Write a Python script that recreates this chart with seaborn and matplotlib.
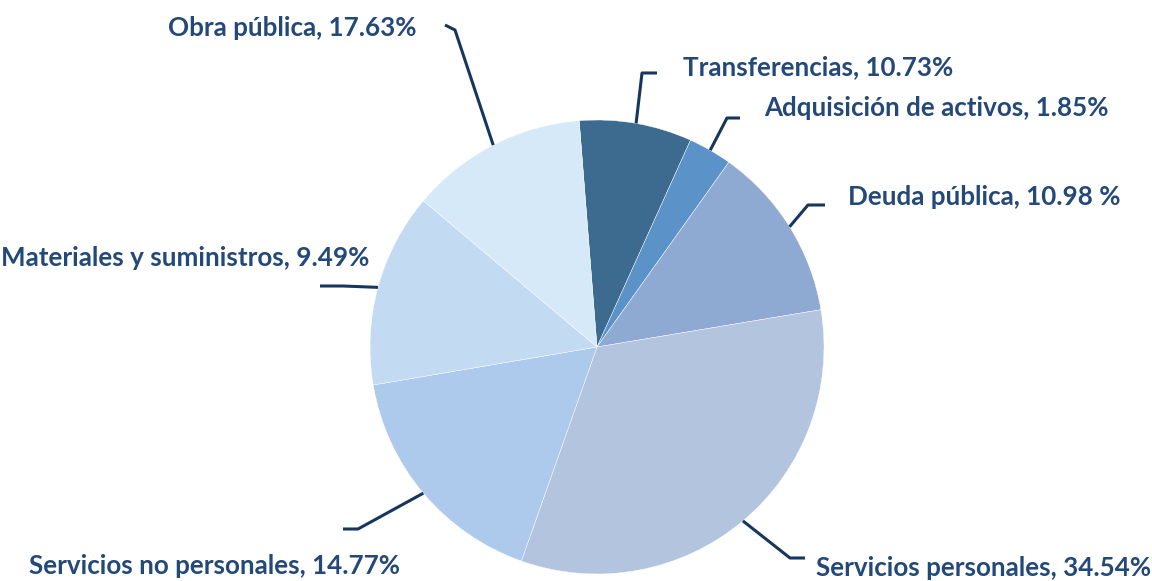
import numpy as np
import matplotlib
matplotlib.use("Agg")
import matplotlib.pyplot as plt
import seaborn as sns

# wedge sizes (the printed % labels differ from the drawn slices)
categorias = ["Transferencias", "Adquisición de activos", "Deuda pública",
              "Servicios personales", "Servicios no personales",
              "Materiales y suministros", "Obra pública"]
valores = [8.0, 3.1, 12.5, 33.0, 16.9, 13.8, 12.6]
etiquetas = ["Transferencias, 10.73%", "Adquisición de activos, 1.85%",
             "Deuda pública, 10.98 %", "Servicios personales, 34.54%",
             "Servicios no personales, 14.77%", "Materiales y suministros, 9.49%",
             "Obra pública, 17.63%"]
colores = ["#3d6a8f", "#5b93c8", "#8eaad2", "#b3c4df", "#adcaed", "#c2dbf2", "#d5e9f9"]

sns.set_theme(style="white")
plt.rcParams['font.family'] = ['Lato', 'DejaVu Sans']

W, H = 1152, 581
fig = plt.figure(figsize=(W / 100, H / 100), dpi=100)
ax = fig.add_axes([0, 0, 1, 1])

cx, cy, r = 597, H - 347, 227
wedges, _ = ax.pie(valores, colors=colores, startangle=94.5, counterclock=False,
                   center=(cx, cy), radius=r, frame=True,
                   wedgeprops=dict(edgecolor="white", linewidth=0.3))
ax.set_xlim(0, W)
ax.set_ylim(0, H)
ax.set_aspect("equal")
ax.axis("off")

# leader layout: (elbow, end of line, text anchor, ha) in pixel coords from top-left
layout = [
    ((642, 73), (657, 73), (683, 67), "left"),
    ((727, 118), (740, 118), (764, 108), "left"),
    ((808, 205), (825, 205), (848, 197), "left"),
    ((790, 558), (805, 558), (816, 568), "left"),
    ((358, 529), (343, 529), (400, 566), "right"),
    ((343, 286), (320, 286), (369, 258), "right"),
    ((455, 30), (445, 25), (417, 28), "right"),
]

for w, lab, (elb, end, txt, ha) in zip(wedges, etiquetas, layout):
    ang = np.deg2rad((w.theta1 + w.theta2) / 2)
    x0, y0 = cx + r * np.cos(ang), cy + r * np.sin(ang)
    ax.plot([x0, elb[0], end[0]], [y0, H - elb[1], H - end[1]],
            color="#17365d", lw=2.2, solid_capstyle="butt")
    ax.text(txt[0], H - txt[1], lab, ha=ha, va="center", fontsize=18.7,
            fontweight="bold", color="#23487a")

fig.savefig("out.png", dpi=100)
